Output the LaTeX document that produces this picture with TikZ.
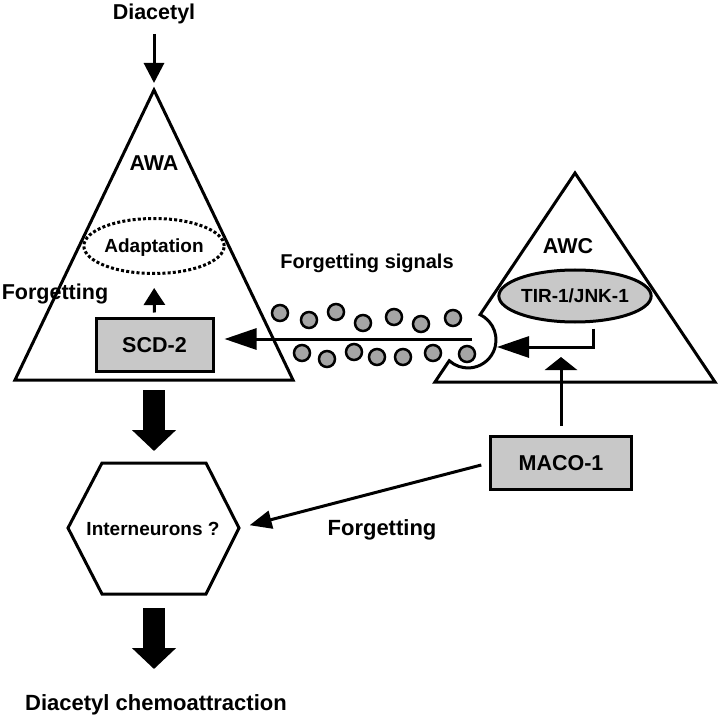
\documentclass[tikz,border=0pt]{standalone}
\usepackage{fontspec}
\setmainfont{Liberation Sans}
\usetikzlibrary{arrows.meta,shapes.geometric,calc}
\definecolor{boxgray}{RGB}{200,200,200}
\definecolor{dotgray}{RGB}{165,165,165}
\begin{document}
\begin{tikzpicture}[x=1pt,y=-1pt,
  big/.style={font=\bfseries\fontsize{21.5}{21.5}\selectfont, inner sep=0pt, text height=15.4pt, text depth=0pt},
  small/.style={font=\bfseries\fontsize{19}{19}\selectfont, inner sep=0pt, text height=13.6pt, text depth=0pt},
  cell/.style={line width=3pt, line join=miter},
  gbox/.style={draw, line width=3pt, fill=boxgray, rectangle},
  varr/.style={line width=3pt, -{Triangle[length=20pt,width=20pt]}},
  harr/.style={line width=3pt, -{Triangle[length=32pt,width=21pt]}},
  flatarr/.style={line width=3pt, -{Triangle[length=13pt,width=32pt]}},
  sarr/.style={line width=3pt, -{Triangle[length=22pt,width=18pt]}},
  fatarr/.style={line width=22pt, -{Triangle[length=21pt,width=43pt]}},
  sig/.style={circle, draw, line width=2.5pt, fill=dotgray, minimum size=16pt, inner sep=0pt}
]
\fill[white] (0,0) rectangle (720,719);
\useasboundingbox (0,0) rectangle (720,719);

% AWA triangle
\coordinate (awaapex) at (154,90);
\draw[cell] (awaapex) -- (293,380) -- (15,380) -- cycle;

% AWC triangle with notch
\coordinate (awcapex) at (575,173);
\draw[cell] (awcapex) -- (480.1,314.7) arc[start angle=-64.4, end angle=132.1, radius=28] -- (435,382) -- (715,382) -- cycle;

% signal dots
\foreach \i/\p in {1/{(280,313)},2/{(309,320)},3/{(336,312)},4/{(363,323)},5/{(394,317)},6/{(421,324)},7/{(453,318)},
                   8/{(302,353)},9/{(327,359)},10/{(354,352)},11/{(377,357)},12/{(403,357)},13/{(433,353)},14/{(467,354)}}
  \node[sig] (s\i) at \p {};

% labels and boxes
\node[big] (dia) at (154,12) {Diacetyl};
\draw[varr, shorten <=14pt, shorten >=7pt] (dia.south) -- (awaapex);

\node[big] (awa) at (154,163) {AWA};
\node[small, ellipse, draw, line width=3pt, dash pattern=on 3pt off 2.2pt,
      minimum width=125pt, minimum height=55pt] (adapt) at (154,246) {Adaptation};
\node[gbox, big, minimum width=117pt, minimum height=53pt] (scd) at (154.5,344.5) {SCD-2};
\draw[line width=3pt, -{Triangle[length=17pt,width=21pt]}, shorten <=4pt, shorten >=13pt] (scd.north) -- (adapt.south);

\node[big] (fl) at (55,292) {Forgetting};
\node[small, font=\bfseries\fontsize{20}{20}\selectfont] (fs) at (367,262) {Forgetting signals};
\node[big] (awc) at (568,246) {AWC};
\node[small, ellipse, draw, fill=boxgray, line width=3pt,
      minimum width=136pt, minimum height=52pt] (tir) at (575,296) {TIR-1/JNK-1};

\coordinate (sigstart) at (472,339);
\draw[harr, shorten >=10pt] (sigstart) -- (sigstart -| scd.east);

\coordinate (notch) at (497,347);
\draw[harr, line join=miter] (tir.south) ++(18,5) |- (notch);

\node[gbox, big, minimum width=141pt, minimum height=53pt] (maco) at (561,463) {MACO-1};
\coordinate (awcin) at (561,357);
\draw[flatarr, shorten <=9pt] (maco.north) -- (awcin);

% interneurons hexagon
\coordinate (hexR) at (239,528);
\draw[cell] (102,463) -- (206,463) -- (hexR) -- (206,594) -- (102,594) -- (68,528) -- cycle;
\node[small] (inter) at (153,529) {Interneurons ?};
\draw[sarr, shorten <=8pt, shorten >=11pt] (maco.west) -- (hexR);
\node[big, font=\bfseries\fontsize{22}{22}\selectfont] (fb) at (382,528) {Forgetting};

% fat arrows
\coordinate (f1a) at (154,390);
\coordinate (f1b) at (154,451);
\draw[fatarr] (f1a) -- (f1b);
\coordinate (f2a) at (154,608);
\coordinate (f2b) at (154,669);
\draw[fatarr] (f2a) -- (f2b);

\node[big, font=\bfseries\fontsize{22}{22}\selectfont] (chemo) at (156,703) {Diacetyl chemoattraction};
\end{tikzpicture}
\end{document}
